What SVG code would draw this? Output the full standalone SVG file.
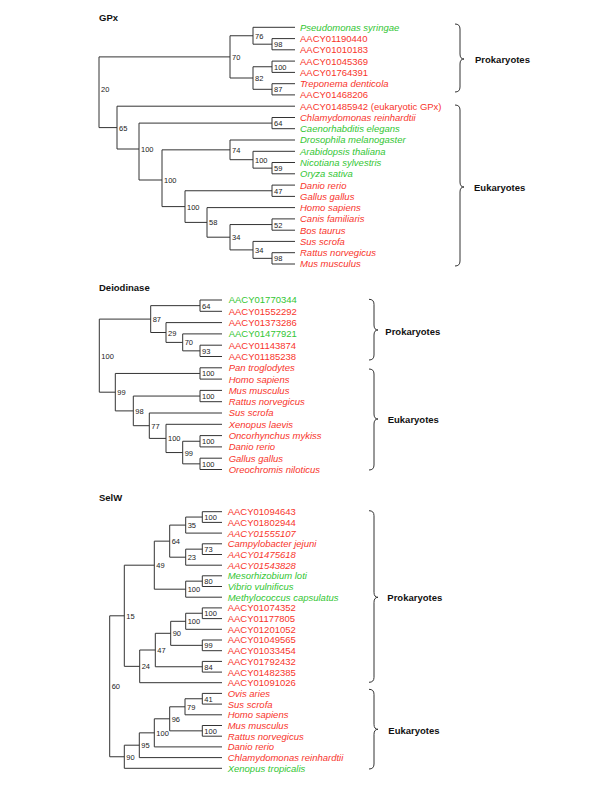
<svg xmlns="http://www.w3.org/2000/svg" width="600" height="786" viewBox="0 0 600 786">
<style>
.t{font-family:"Liberation Sans",Arial,sans-serif;font-size:9.5px;font-weight:bold;fill:#111}
.l{font-family:"Liberation Sans",Arial,sans-serif;font-size:9.5px}
.r{fill:#f8352c}
.g{fill:#33c633}
.i{font-style:italic}
.b{font-family:"Liberation Sans",Arial,sans-serif;font-size:7.5px;fill:#222}
.e{fill:none;stroke:#333;stroke-width:1}
.br{fill:none;stroke:#333;stroke-width:1}
</style>
<rect width="600" height="786" fill="#fff"/>
<g id="titles">
<text class="t" x="99" y="20.5">GPx</text>
<text class="t" x="99" y="290.5">Deiodinase</text>
<text class="t" x="99" y="500.7">SelW</text>
</g>
<g id="connectors">
<path class="e" d="M295 38.6H272V49.8H295M295 27.3H253V44.2H272M295 61.1H272V72.4H295M295 83.7H272V94.9H295M272 66.75H253V89.3H272M253 35.75H230V78H253M295 117.5H272V128.7H295M295 162.5H272V173.8H295M295 151.3H253V168.15H272M295 140H230V159.7H253M295 185.1H272V196.4H295M295 218.9H272V230.2H295M295 252.7H272V264H295M295 241.4H253V258.35H272M272 224.55H230V249.9H253M295 207.6H207V237.2H230M272 190.75H185V222.4H207M230 149.85H162V206.6H185M272 123.1H139V180H162M295 106.2H117V149H139M230 56.9H99V127.6H117"/>
<path class="e" d="M222 300H200V311.3H222M222 345.2H200V356.5H222M222 333.9H182.7V350.85H200M222 322.6H166V342.4H182.7M200 305.65H150.7V332.5H166M222 367.8H200V379.1H222M222 390.4H200V401.7H222M222 435.6H200V446.9H222M222 458.2H200V469.5H222M200 441.25H182.7V463.85H200M222 424.3H166V452.55H182.7M222 413H149.3V438.4H166M200 396.05H133.3V425.7H149.3M200 373.45H115.3V410.9H133.3M150.7 319.1H99.3V392.2H115.3"/>
<path class="e" d="M222 511.7H202.3V522.4H222M202.3 517.05H185.7V533.1H222M222 543.8H202.3V554.5H222M202.3 549.15H185.7V565.2H222M185.7 525.1H169.7V557.2H185.7M222 575.8H202.3V586.5H222M202.3 581.15H185.7V597.2H222M169.7 541.15H154.3V589.2H185.7M222 607.9H202.3V618.6H222M202.3 613.25H185.7V629.3H222M222 640H202.3V650.7H222M185.7 621.3H170.7V645.35H202.3M222 661.4H202.3V672.1H222M170.7 633.3H155.3V666.75H202.3M155.3 650H139.7V682.7H222M154.3 565.2H124.3V666.35H139.7M222 693.4H202.3V704.1H222M202.3 698.75H185V714.8H222M222 725.5H202.3V736.2H222M185 706.8H169.7V730.85H202.3M169.7 718.8H154.3V746.9H222M154.3 732.85H139.3V757.6H222M139.3 745.2H124.3V768.3H222M124.3 615.8H109.7V756.75H124.3"/>
</g>
<g id="gpx-support" class="b">
<text x="101" y="91.5">20</text><text x="232" y="60">70</text><text x="255" y="38.8">76</text><text x="274" y="47.2">98</text><text x="274" y="69.8">100</text><text x="255" y="81">82</text><text x="274" y="92.3">87</text><text x="119" y="130.6">65</text><text x="274" y="126.1">64</text><text x="141" y="152">100</text><text x="232" y="152.9">74</text><text x="255" y="162.7">100</text><text x="274" y="171.2">59</text><text x="164" y="183">100</text><text x="274" y="193.8">47</text><text x="187" y="209.6">100</text><text x="209" y="225.4">58</text><text x="274" y="227.6">52</text><text x="232" y="240.2">34</text><text x="255" y="252.9">34</text><text x="274" y="261.4">98</text>
</g>
<g id="gpx-leaves" class="l">
<text x="300" y="30.7" class="g i">Pseudomonas syringae</text>
<text x="300" y="42" class="r">AACY01190440</text>
<text x="300" y="53.2" class="r">AACY01010183</text>
<text x="300" y="64.5" class="r">AACY01045369</text>
<text x="300" y="75.8" class="r">AACY01764391</text>
<text x="300" y="87.1" class="r i">Treponema denticola</text>
<text x="300" y="98.3" class="r">AACY01468206</text>
<text x="300" y="109.6" class="r">AACY01485942 (eukaryotic GPx)</text>
<text x="300" y="120.9" class="r i">Chlamydomonas reinhardtii</text>
<text x="300" y="132.1" class="g i">Caenorhabditis elegans</text>
<text x="300" y="143.4" class="g i">Drosophila melanogaster</text>
<text x="300" y="154.7" class="g i">Arabidopsis thaliana</text>
<text x="300" y="165.9" class="g i">Nicotiana sylvestris</text>
<text x="300" y="177.2" class="g i">Oryza sativa</text>
<text x="300" y="188.5" class="r i">Danio rerio</text>
<text x="300" y="199.8" class="r i">Gallus gallus</text>
<text x="300" y="211" class="r i">Homo sapiens</text>
<text x="300" y="222.3" class="r i">Canis familiaris</text>
<text x="300" y="233.6" class="r i">Bos taurus</text>
<text x="300" y="244.8" class="r i">Sus scrofa</text>
<text x="300" y="256.1" class="r i">Rattus norvegicus</text>
<text x="300" y="267.4" class="r i">Mus musculus</text>
</g>
<g id="deio-support" class="b">
<text x="202" y="308.6">64</text><text x="202" y="353.8">93</text><text x="184.7" y="345.4">70</text><text x="168" y="335.5">29</text><text x="152.7" y="322.1">87</text><text x="202" y="376.4">100</text><text x="202" y="399">100</text><text x="202" y="444.2">100</text><text x="202" y="466.8">100</text><text x="184.7" y="455.5">99</text><text x="168" y="441.4">100</text><text x="151.3" y="428.7">77</text><text x="135.3" y="413.9">98</text><text x="117.3" y="395.2">99</text><text x="101.3" y="358.6">100</text>
</g>
<g id="deio-leaves" class="l">
<text x="228.7" y="303.4" class="g">AACY01770344</text>
<text x="228.7" y="314.7" class="r">AACY01552292</text>
<text x="228.7" y="326" class="r">AACY01373286</text>
<text x="228.7" y="337.3" class="g">AACY01477921</text>
<text x="228.7" y="348.6" class="r">AACY01143874</text>
<text x="228.7" y="359.9" class="r">AACY01185238</text>
<text x="228.7" y="371.2" class="r i">Pan troglodytes</text>
<text x="228.7" y="382.5" class="r i">Homo sapiens</text>
<text x="228.7" y="393.8" class="r i">Mus musculus</text>
<text x="228.7" y="405.1" class="r i">Rattus norvegicus</text>
<text x="228.7" y="416.4" class="r i">Sus scrofa</text>
<text x="228.7" y="427.7" class="r i">Xenopus laevis</text>
<text x="228.7" y="439" class="r i">Oncorhynchus mykiss</text>
<text x="228.7" y="450.3" class="r i">Danio rerio</text>
<text x="228.7" y="461.6" class="r i">Gallus gallus</text>
<text x="228.7" y="472.9" class="r i">Oreochromis niloticus</text>
</g>
<g id="selw-support" class="b">
<text x="204.3" y="520">100</text><text x="187.7" y="528.1">35</text><text x="204.3" y="552.2">73</text><text x="187.7" y="560.2">23</text><text x="171.7" y="544.2">64</text><text x="204.3" y="584.2">80</text><text x="187.7" y="592.2">100</text><text x="156.3" y="568.2">49</text><text x="204.3" y="616.3">100</text><text x="187.7" y="624.3">100</text><text x="204.3" y="648.4">99</text><text x="172.7" y="636.3">90</text><text x="204.3" y="669.8">84</text><text x="157.3" y="653">47</text><text x="141.7" y="669.4">24</text><text x="126.3" y="618.8">15</text><text x="204.3" y="701.8">41</text><text x="187" y="709.8">79</text><text x="204.3" y="733.9">100</text><text x="171.7" y="721.8">96</text><text x="156.3" y="735.9">100</text><text x="141.3" y="748.2">95</text><text x="126.3" y="759.8">90</text><text x="111.7" y="689.3">60</text>
</g>
<g id="selw-leaves" class="l">
<text x="227.7" y="515.1" class="r">AACY01094643</text>
<text x="227.7" y="525.8" class="r">AACY01802944</text>
<text x="227.7" y="536.5" class="r i">AACY01555107</text>
<text x="227.7" y="547.2" class="r i">Campylobacter jejuni</text>
<text x="227.7" y="557.9" class="r i">AACY01475618</text>
<text x="227.7" y="568.6" class="r i">AACY01543828</text>
<text x="227.7" y="579.2" class="g i">Mesorhizobium loti</text>
<text x="227.7" y="589.9" class="g i">Vibrio vulnificus</text>
<text x="227.7" y="600.6" class="g i">Methylococcus capsulatus</text>
<text x="227.7" y="611.3" class="r">AACY01074352</text>
<text x="227.7" y="622" class="r">AACY01177805</text>
<text x="227.7" y="632.7" class="r">AACY01201052</text>
<text x="227.7" y="643.4" class="r">AACY01049565</text>
<text x="227.7" y="654.1" class="r">AACY01033454</text>
<text x="227.7" y="664.8" class="r">AACY01792432</text>
<text x="227.7" y="675.5" class="r">AACY01482385</text>
<text x="227.7" y="686.1" class="r">AACY01091026</text>
<text x="227.7" y="696.8" class="r i">Ovis aries</text>
<text x="227.7" y="707.5" class="r i">Sus scrofa</text>
<text x="227.7" y="718.2" class="r i">Homo sapiens</text>
<text x="227.7" y="728.9" class="r i">Mus musculus</text>
<text x="227.7" y="739.6" class="r i">Rattus norvegicus</text>
<text x="227.7" y="750.3" class="r i">Danio rerio</text>
<text x="227.7" y="761" class="r i">Chlamydomonas reinhardtii</text>
<text x="227.7" y="771.7" class="g i">Xenopus tropicalis</text>
</g>
<g id="gpx-prokaryotes">
<path class="br" d="M455 24Q460 24 460 29V54Q460 59 464 59Q460 59 460 64V87Q460 92 455 92"/>
<text class="t" x="475" y="62.5">Prokaryotes</text>
</g>
<g id="gpx-eukaryotes">
<path class="br" d="M455 105Q460 105 460 110V182Q460 187 464 187Q460 187 460 192V261Q460 266 455 266"/>
<text class="t" x="474" y="190.5">Eukaryotes</text>
</g>
<g id="deio-prokaryotes">
<path class="br" d="M369 299.3Q374 299.3 374 304.3V325Q374 330 378 330Q374 330 374 335V355Q374 360 369 360"/>
<text class="t" x="385.3" y="334.5">Prokaryotes</text>
</g>
<g id="deio-eukaryotes">
<path class="br" d="M369 369Q374 369 374 374V414Q374 419 378 419Q374 419 374 424V465Q374 470 369 470"/>
<text class="t" x="387.7" y="422.5">Eukaryotes</text>
</g>
<g id="selw-prokaryotes">
<path class="br" d="M369 510.7Q374 510.7 374 515.7V592.3Q374 597.3 378 597.3Q374 597.3 374 602.3V677.3Q374 682.3 369 682.3"/>
<text class="t" x="387.3" y="600.7">Prokaryotes</text>
</g>
<g id="selw-eukaryotes">
<path class="br" d="M369 689.3Q374 689.3 374 694.3V724.3Q374 729.3 378 729.3Q374 729.3 374 734.3V764Q374 769 369 769"/>
<text class="t" x="388.3" y="734">Eukaryotes</text>
</g>
</svg>
